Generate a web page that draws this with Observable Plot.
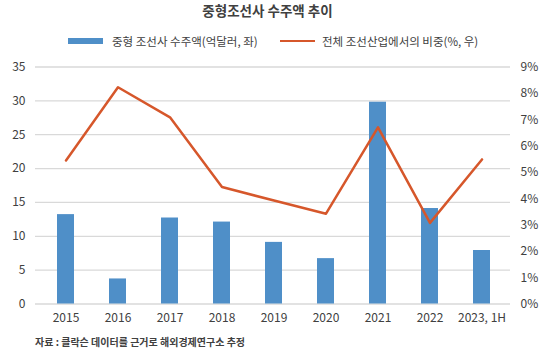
<!DOCTYPE html>
<html>
<head>
<meta charset="utf-8">
<script src="https://cdn.jsdelivr.net/npm/d3@7"></script>
<script src="https://cdn.jsdelivr.net/npm/@observablehq/plot@0.6"></script>
<style>
  body { margin: 0; background: #fff; font-family: "Noto Sans CJK KR", "Noto Sans", sans-serif; }
  #wrap { position: relative; width: 550px; height: 352px; overflow: hidden; }
  .t { position: absolute; white-space: nowrap; color: #404040; }
  #title { left: 0; width: 535px; top: 0; text-align: center; font-size: 13.5px; font-weight: bold; line-height: 20px; }
  #chart { position: absolute; left: 0; top: 55px; }
  .sw1 { position: absolute; left: 68px; top: 38px; width: 35px; height: 6px; background: #4F8FC8; }
  .sw2 { position: absolute; left: 280px; top: 39.5px; width: 35px; height: 2.5px; background: #D6572B; }
  .lg { font-size: 11.5px; line-height: 16px; top: 33px; color: #404040; }
  #caption { left: 35px; top: 334px; font-size: 10px; font-weight: bold; line-height: 16px; color: #404040; }
</style>
</head>
<body>
<div id="wrap">
  <div id="title" class="t">중형조선사 수주액 추이</div>
  <div class="sw1"></div>
  <div class="t lg" style="left:112px">중형 조선사 수주액(억달러, 좌)</div>
  <div class="sw2"></div>
  <div class="t lg" style="left:322px">전체 조선산업에서의 비중(%, 우)</div>
  <div id="chart"></div>
  <div id="caption" class="t">자료 : 클락슨 데이터를 근거로 해외경제연구소 추정</div>
</div>
<script>
const years = ["2015", "2016", "2017", "2018", "2019", "2020", "2021", "2022", "2023, 1H"];
const orders = [13.2, 3.7, 12.7, 12.1, 9.1, 6.7, 29.8, 14.1, 7.9];
const share = [5.45, 8.23, 7.09, 4.44, 3.93, 3.43, 6.71, 3.08, 5.49];
const leftTicks = [0, 5, 10, 15, 20, 25, 30, 35];
const rightTicks = [0, 1, 2, 3, 4, 5, 6, 7, 8, 9];

const leftMax = 35, rightMax = 9;
const k = leftMax / rightMax;
const data = years.map((y, i) => ({year: y, orders: orders[i], share: share[i]}));

const chart = Plot.plot({
  width: 550,
  height: 280,
  marginTop: 11.5,
  marginBottom: 31.5,
  marginLeft: 35,
  marginRight: 40,
  style: {fontFamily: '"Noto Sans CJK KR", "Noto Sans", sans-serif', fontSize: "12px", color: "#404040", background: "transparent"},
  x: {domain: years, range: [38.4, 508.1], paddingInner: 0.665, paddingOuter: 0.3325},
  y: {domain: [0, leftMax]},
  marks: [
    Plot.gridY(leftTicks, {stroke: "#d9d9d9", strokeOpacity: 1, strokeWidth: 1.3}),
    Plot.axisY(leftTicks, {anchor: "left", tickSize: 0, tickPadding: 10, label: null, fill: "#404040"}),
    Plot.axisY(rightTicks.map(d => d * k), {anchor: "right", tickSize: 0, tickPadding: 10, label: null, tickFormat: d => Math.round(d / k) + "%", textAnchor: "start", fill: "#404040"}),
    Plot.axisX({tickSize: 0, tickPadding: 9, label: null, fill: "#404040"}),
    Plot.barY(data, {x: "year", y: "orders", fill: "#4F8FC8"}),
    Plot.line(data, {x: "year", y: d => d.share * k, stroke: "#D6572B", strokeWidth: 2.5})
  ]
});
document.getElementById("chart").appendChild(chart);
</script>
</body>
</html>
